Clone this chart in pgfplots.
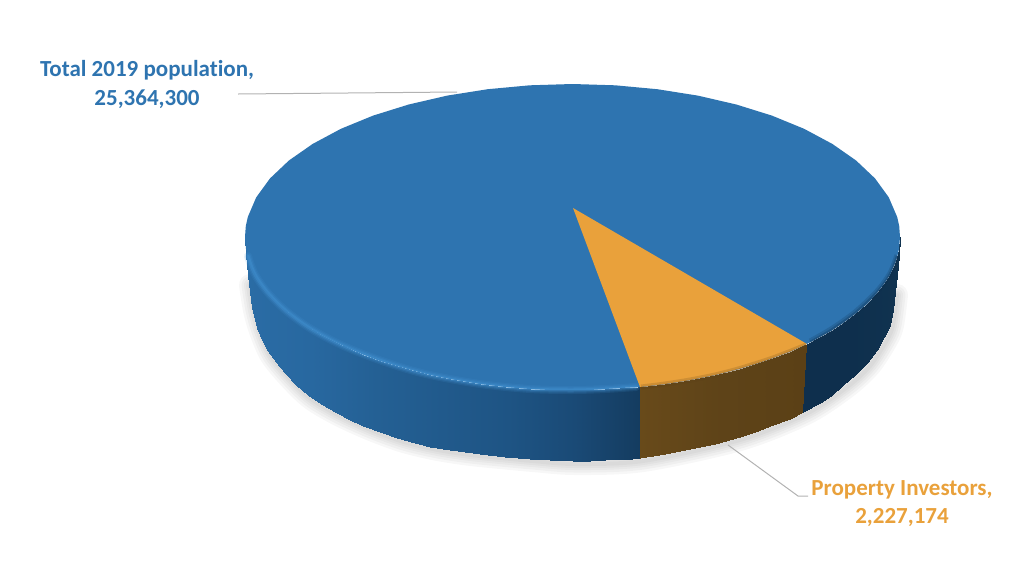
\documentclass[border=0pt]{standalone}
\usepackage{fontspec}
\setmainfont[Ligatures=NoCommon]{Carlito}
\usepackage{pgfplots}
\pgfplotsset{compat=1.18}
\definecolor{pieblue}{RGB}{46,116,176}
\definecolor{pieorange}{RGB}{233,161,59}
\definecolor{leader}{RGB}{178,178,178}
\definecolor{rimlight}{RGB}{70,150,215}
\definecolor{rimdark}{RGB}{14,47,77}
\definecolor{rimbrown}{RGB}{94,67,24}
\begin{document}
\begin{tikzpicture}
\path[use as bounding box] (0,0) rectangle (1024pt,574pt);
\begin{axis}[
  scale only axis, width=1024pt, height=574pt,
  xmin=0, xmax=1024, ymin=0, ymax=574, y dir=reverse,
  hide axis, clip=false, anchor=south west, at={(0,0)},
  point meta rel=per plot,
  shadowline/.style={draw=black, opacity=0.033, line width=#1, line cap=round, line join=round, smooth},
]
% soft shadow under the disc, in layers
\addplot[shadowline=22pt] coordinates {(250,285)(254,310)(260,331)(271,356)(291,380)(311,399)(338,415)(371,430)(404,442)(438,450)(471,455)(511,459)(533,461)(575,464)(643,461)(740,440)(806,414)(846,388)(870,366)(887,340)(893,325)(897,295)};
\addplot[shadowline=17pt] coordinates {(250,285)(254,310)(260,331)(271,356)(291,380)(311,399)(338,415)(371,430)(404,442)(438,450)(471,455)(511,459)(533,461)(575,464)(643,461)(740,440)(806,414)(846,388)(870,366)(887,340)(893,325)(897,295)};
\addplot[shadowline=12pt] coordinates {(250,285)(254,310)(260,331)(271,356)(291,380)(311,399)(338,415)(371,430)(404,442)(438,450)(471,455)(511,459)(533,461)(575,464)(643,461)(740,440)(806,414)(846,388)(870,366)(887,340)(893,325)(897,295)};
\addplot[shadowline=8pt] coordinates {(250,285)(254,310)(260,331)(271,356)(291,380)(311,399)(338,415)(371,430)(404,442)(438,450)(471,455)(511,459)(533,461)(575,464)(643,461)(740,440)(806,414)(846,388)(870,366)(887,340)(893,325)(897,295)};
\addplot[shadowline=4pt] coordinates {(250,285)(254,310)(260,331)(271,356)(291,380)(311,399)(338,415)(371,430)(404,442)(438,450)(471,455)(511,459)(533,461)(575,464)(643,461)(740,440)(806,414)(846,388)(870,366)(887,340)(893,325)(897,295)};
% side wall: blue part
\addplot[surf, shader=interp, point meta=x, mesh/rows=32, mesh/cols=2,
  colormap={wallblue}{rgb255=(42,108,165) rgb255=(40,104,160) rgb255=(36,96,148) rgb255=(33,90,140) rgb255=(30,84,132) rgb255=(26,74,118) rgb255=(20,60,96)}]
coordinates {
(245,237)(245,237)
(246,249)(246,255)
(248,257.5)(248,275)
(250,263.5)(250,292)
(252,268.4)(252,308)
(257,278)(257,328)
(262,285.7)(262,340)
(268,293)(268,351)
(276,302)(276,362)
(285,310)(285,373)
(296,319)(296,385)
(308,327)(308,395)
(321,335)(321,404)
(335,342)(335,412)
(350,349)(350,420)
(363,354.5)(363,426)
(380,361)(380,432)
(397,366)(397,438)
(415,371)(415,443)
(430,375)(430,447)
(450,379)(450,450)
(480,384)(480,454)
(505,387)(505,457)
(530,389)(530,459)
(550,390)(550,460)
(572.5,390)(572.5,461)
(590,390)(590,460.5)
(605,389)(605,460)
(620,388)(620,459)
(632,387.5)(632,458.5)
(638,387)(638,458)
(640,387)(640,458)
};
% side wall: orange part
\addplot[surf, shader=interp, point meta=x, mesh/rows=10, mesh/cols=2,
  colormap={wallorange}{rgb255=(104,74,26) rgb255=(94,67,24) rgb255=(91,64,22)}]
coordinates {
(640,387)(640,458)
(665,384)(665,454)
(690,380)(690,449)
(715,375)(715,444)
(740,368.5)(740,437)
(755,364)(755,432)
(770,359)(770,426)
(790,351.5)(790,419)
(804,345)(803,412)
(807,344)(803,412)
};
% side wall: dark right part
\addplot[surf, shader=interp, point meta=x, mesh/rows=14, mesh/cols=2,
  colormap={walldark}{rgb255=(14,47,77) rgb255=(14,47,77) rgb255=(16,51,80)}]
coordinates {
(807,344)(803,412)
(820,337)(820,403)
(831,331)(831,396)
(843,323)(843,385)
(855,314)(855,375)
(867,304)(867,363)
(877,293)(877,350)
(884,284)(884,337)
(890,275)(890,325)
(893,268)(893,310)
(895,263.5)(895,292)
(897,257.5)(897,275)
(899,249)(899,255)
(900,237)(900,237)
};
% top face
\addplot[fill=pieblue, draw=none] coordinates {
(245,237)(245.8,226)(247.8,217)(256.2,197.4)(270,178.4)(288.9,160.5)(312.7,143.9)(340.9,128.8)(373.1,115.6)(408.7,104.5)(447.2,95.6)(487.7,89.2)(529.8,85.3)(572.5,84)(615.2,85.3)(657.3,89.2)(697.8,95.6)(736.3,104.5)(771.9,115.6)(804.1,128.8)(832.3,143.9)(856.1,160.5)(875,178.4)(888.8,197.4)(897.2,217)(899.2,226)(900,237)
(899,249)(897,257.5)(895,263.5)(893,268)(890,275)(884,284)(877,293)(867,304)(855,314)(843,323)(831,331)(820,337)(807,344)(790,351.5)(770,359)(755,364)(740,368.5)(715,375)(690,380)(665,384)(640,387)(620,388)(605,389)(590,390)(572.5,390)(550,390)(530,389)(505,387)(480,384)(450,379)(430,375)(415,371)(397,366)(380,361)(363,354.5)(350,349)(335,342)(321,335)(308,327)(296,319)(285,310)(276,302)(268,293)(262,285.7)(257,278)(252,268.4)(250,263.5)(248,257.5)(246,249)
} -- cycle;
% rim highlight, blue part
\addplot[draw=rimlight, line width=8pt, opacity=0.14, smooth, line cap=round] coordinates {
(248,256)(252,268)(257,278)(268,293)(285,310)(308,327)(335,342)(363,354)(397,366)(430,375)(480,384)(530,389)(572,390)(605,389)(636,387)};
\addplot[draw=rimlight, line width=5.5pt, opacity=0.2, smooth, line cap=round] coordinates {
(248,256)(252,268)(257,278)(268,293)(285,310)(308,327)(335,342)(363,354)(397,366)(430,375)(480,384)(530,389)(572,390)(605,389)(636,387)};
\addplot[draw=rimlight, line width=3pt, opacity=0.35, smooth, line cap=round] coordinates {
(248,256)(252,268)(257,278)(268,293)(285,310)(308,327)(335,342)(363,354)(397,366)(430,375)(480,384)(530,389)(572,390)(605,389)(636,387)};
% rim shade, right part
\addplot[draw=rimdark, line width=5pt, opacity=0.2, smooth] coordinates {
(810,341)(831,329)(855,312)(877,291)(890,273)(897,255)};
\addplot[draw=rimdark, line width=2.5pt, opacity=0.3, smooth] coordinates {
(810,342)(831,330)(855,313)(877,292)(890,274)(897,256)};
% wedge
\addplot[fill=pieorange, draw=none] coordinates {
(573,208)(640,387)(665,384)(690,380)(715,375)(740,368.5)(755,364)(770,359)(790,351.5)(807,344)} -- cycle;
\addplot[draw=rimbrown, line width=5pt, opacity=0.2, smooth] coordinates {
(641,387)(665,384)(690,380)(715,375)(740,368.5)(770,359)(790,351.5)(806,345)};
\addplot[draw=rimbrown, line width=2.5pt, opacity=0.3, smooth] coordinates {
(641,388)(665,385)(690,381)(715,376)(740,369.5)(770,360)(790,352.5)(806,346)};
% leader lines
\addplot[draw=leader, line width=1pt] coordinates {(238,94)(457,92)};
\addplot[draw=leader, line width=1pt] coordinates {(728,445)(798,496)(808,496)};
% labels
\node[text=pieblue, align=center, font=\fontsize{23}{29}\selectfont\bfseries, anchor=center] at (axis cs:147,84) {Total 2019 population,\\25,364,300};
\node[text=pieorange, align=center, font=\fontsize{23}{28}\selectfont\bfseries, anchor=center] at (axis cs:902,504) {Property Investors,\\2,227,174};
\end{axis}
\end{tikzpicture}
\end{document}
